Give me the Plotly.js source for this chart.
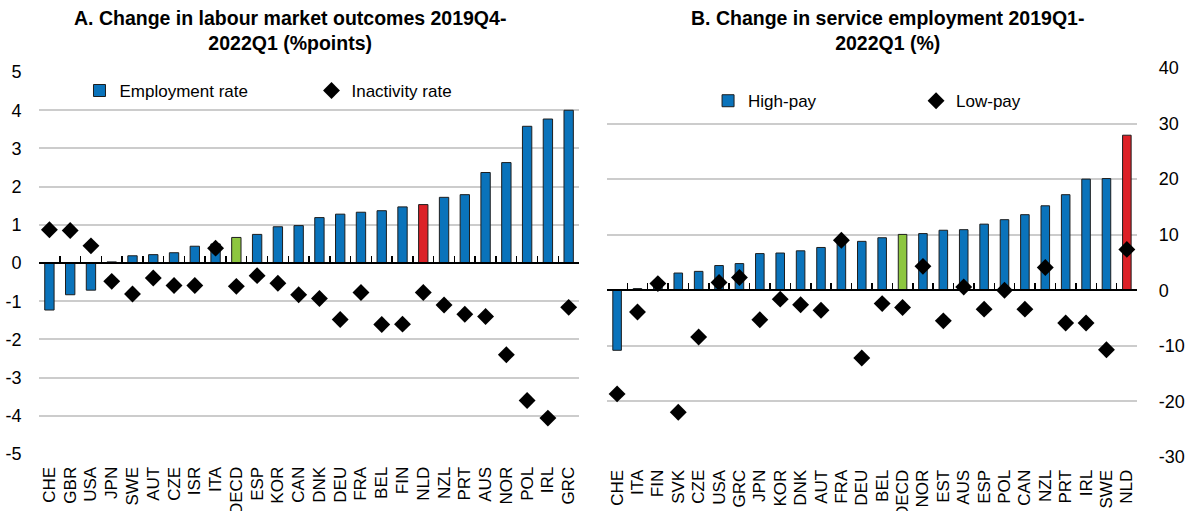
<!DOCTYPE html>
<html>
<head>
<meta charset="utf-8">
<script src="https://cdn.plot.ly/plotly-3.0.1.min.js"></script>
<style>html,body{margin:0;padding:0;background:#fff;}#chart{width:1190px;height:511px;}</style>
</head>
<body>
<div id="chart"></div>
<script>
// Panel A: Change in labour market outcomes 2019Q4-2022Q1 (%points)
const catsA = ['CHE','GBR','USA','JPN','SWE','AUT','CZE','ISR','ITA','OECD','ESP','KOR','CAN','DNK','DEU','FRA','BEL','FIN','NLD','NZL','PRT','AUS','NOR','POL','IRL','GRC'];
const employmentA = [-1.23,-0.83,-0.71,0.03,0.19,0.22,0.27,0.44,0.50,0.67,0.75,0.95,0.98,1.19,1.28,1.33,1.37,1.47,1.53,1.72,1.79,2.37,2.63,3.58,3.77,4.00];
const inactivityA = [0.87,0.85,0.45,-0.48,-0.81,-0.39,-0.59,-0.59,0.39,-0.61,-0.33,-0.53,-0.83,-0.93,-1.48,-0.77,-1.61,-1.60,-0.77,-1.10,-1.34,-1.40,-2.40,-3.60,-4.06,-1.16];
const ticksA = [-5,-4,-3,-2,-1,0,1,2,3,4,5];

// Panel B: Change in service employment 2019Q1-2022Q1 (%)
const catsB = ['CHE','ITA','FIN','SVK','CZE','USA','GRC','JPN','KOR','DNK','AUT','FRA','DEU','BEL','OECD','NOR','EST','AUS','ESP','POL','CAN','NZL','PRT','IRL','SWE','NLD'];
const highPayB = [-10.8,0.3,1.0,3.1,3.4,4.45,4.8,6.6,6.7,7.1,7.7,8.6,8.8,9.45,10.05,10.2,10.8,10.9,11.9,12.7,13.6,15.2,17.2,20.0,20.1,27.9];
const lowPayB = [-18.65,-3.9,1.2,-21.95,-8.4,1.4,2.3,-5.3,-1.6,-2.6,-3.6,9.0,-12.2,-2.4,-3.1,4.3,-5.5,0.6,-3.4,0.0,-3.4,4.1,-5.9,-5.9,-10.7,7.35];
const ticksB = [-30,-20,-10,0,10,20,30,40];

const titleA = 'A. Change in labour market outcomes 2019Q4-<br>2022Q1 (%points)';
const titleB = 'B. Change in service employment 2019Q1-<br>2022Q1 (%)';

const BLUE = '#0a73bb', GREEN = '#8dc63f', RED = '#dc2127';
const colorFor = c => c === 'OECD' ? GREEN : (c === 'NLD' ? RED : BLUE);
const FONT = 'Liberation Sans, Arial, sans-serif';

const domXA = [0.0328, 0.4866], domYA = [0.1115, 0.859];
const domXB = [0.5100, 0.9555], domYB = [0.1057, 0.867];
const rangeA = [ticksA[0], ticksA[ticksA.length-1]];
const rangeB = [ticksB[0], ticksB[ticksB.length-1]];
const zeroPos = (dom, r) => dom[0] + (0 - r[0]) / (r[1] - r[0]) * (dom[1] - dom[0]);
const bounds = n => Array.from({length: n + 1}, (_, i) => i - 0.5);

const traces = [
  {type:'bar', x:catsA, y:employmentA, xaxis:'x', yaxis:'y', name:'Employment rate', width:0.45,
   marker:{color:catsA.map(colorFor), line:{color:'#1e1e1e', width:1}}, legend:'legend'},
  {type:'scatter', mode:'markers', x:catsA, y:inactivityA, xaxis:'x', yaxis:'y', name:'Inactivity rate',
   marker:{symbol:'diamond', size:13, color:'#000'}, legend:'legend'},
  {type:'bar', x:catsB, y:highPayB, xaxis:'x2', yaxis:'y2', name:'High-pay', width:0.42,
   marker:{color:catsB.map(colorFor), line:{color:'#1e1e1e', width:1}}, legend:'legend2'},
  {type:'scatter', mode:'markers', x:catsB, y:lowPayB, xaxis:'x2', yaxis:'y2', name:'Low-pay',
   marker:{symbol:'diamond', size:13, color:'#000'}, legend:'legend2'},
  // empty helper traces so the baseline axes (zero line with category ticks) get drawn
  {type:'scatter', mode:'markers', x:[], y:[], xaxis:'x3', yaxis:'y', showlegend:false, hoverinfo:'skip'},
  {type:'scatter', mode:'markers', x:[], y:[], xaxis:'x4', yaxis:'y2', showlegend:false, hoverinfo:'skip'}
];

const catAxis = (dom, anchor, cats) => ({
  domain: dom, anchor: anchor, type:'category', categoryarray: cats, categoryorder:'array',
  range:[-0.5, cats.length - 0.5], tickangle:-90, showgrid:false, zeroline:false, showline:false,
  tickmode:'array', tickvals: cats, ticktext: cats,
  ticks:'outside', ticklen:5, tickcolor:'rgba(0,0,0,0)',
  tickfont:{size:17, color:'#000', family:FONT}
});
const valAxis = (dom, anchor, r, vals, side, len) => ({
  domain: dom, anchor: anchor, range: r, side: side,
  tickmode:'array', tickvals: vals, ticktext: vals.map(String),
  showgrid:true, gridcolor:'#cccccc', gridwidth:2, zeroline:false, showline:false,
  ticks:'outside', ticklen:len, tickcolor:'rgba(0,0,0,0)',
  tickfont:{size:18, color:'#000', family:FONT}
});
const baseAxis = (over, pos, n) => ({
  overlaying: over, anchor:'free', position: pos, type:'linear', range:[-0.5, n - 0.5],
  tickmode:'array', tickvals: bounds(n), ticks:'inside', ticklen:6, tickwidth:1.5, tickcolor:'#000',
  showticklabels:false, showgrid:false, zeroline:false, showline:true, linecolor:'#000', linewidth:2
});

const layout = {
  width:1190, height:511, margin:{l:0, r:0, t:0, b:0},
  paper_bgcolor:'#fff', plot_bgcolor:'rgba(0,0,0,0)',
  font:{family:FONT, color:'#000'},
  showlegend:true, barmode:'overlay',
  xaxis: catAxis(domXA, 'y', catsA),
  yaxis: valAxis(domYA, 'x', rangeA, ticksA, 'left', 13),
  xaxis2: catAxis(domXB, 'y2', catsB),
  yaxis2: valAxis(domYB, 'x2', rangeB, ticksB, 'right', 17),
  xaxis3: baseAxis('x', zeroPos(domYA, rangeA), catsA.length),
  xaxis4: baseAxis('x2', zeroPos(domYB, rangeB), catsB.length),
  legend: {orientation:'h', x:0.0668, xanchor:'left', y:0.822, yanchor:'middle',
           entrywidth:187, entrywidthmode:'pixels', font:{size:17, family:FONT},
           bgcolor:'rgba(0,0,0,0)', traceorder:'normal'},
  legend2: {orientation:'h', x:0.595, xanchor:'left', y:0.802, yanchor:'middle',
           entrywidth:163, entrywidthmode:'pixels', font:{size:17, family:FONT},
           bgcolor:'rgba(0,0,0,0)', traceorder:'normal'},
  annotations: [
    {text:titleA, xref:'paper', yref:'paper', x:290/1190, y:1-5/511, xanchor:'center', yanchor:'top',
     showarrow:false, font:{size:19.5, family:FONT, color:'#000', weight:'bold'}},
    {text:titleB, xref:'paper', yref:'paper', x:887/1190, y:1-5/511, xanchor:'center', yanchor:'top',
     showarrow:false, font:{size:19.5, family:FONT, color:'#000', weight:'bold'}}
  ]
};

Plotly.newPlot('chart', traces, layout, {displayModeBar:false, staticPlot:true});
</script>
</body>
</html>
